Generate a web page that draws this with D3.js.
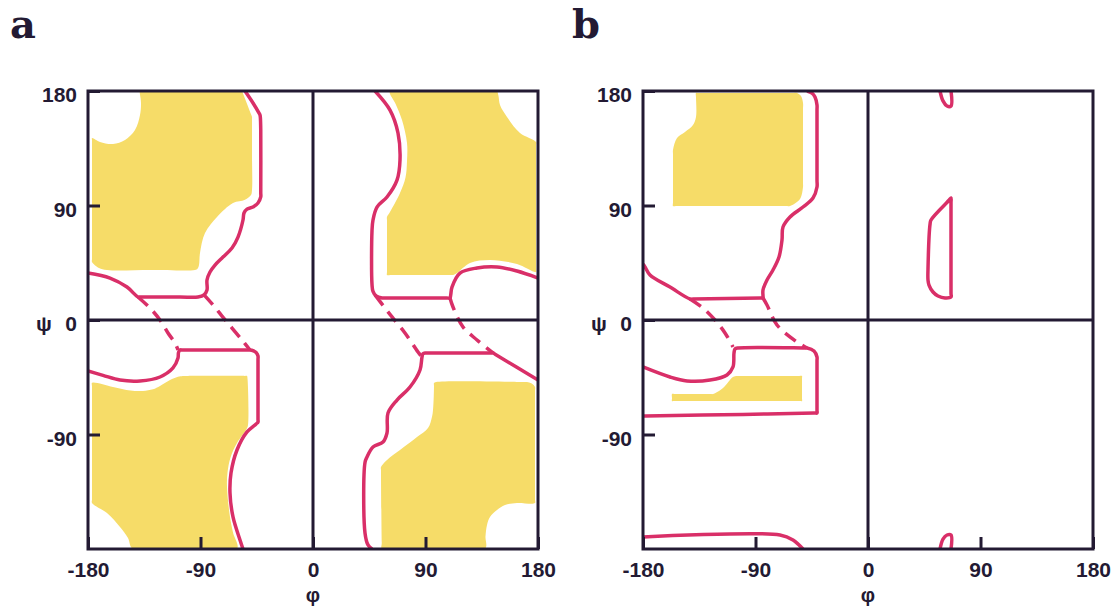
<!DOCTYPE html>
<html>
<head>
<meta charset="utf-8">
<script src="https://cdn.jsdelivr.net/npm/d3@7"></script>
<style>
  body { margin: 0; background: #fff; }
  text { font-family: "Liberation Sans", Arial, sans-serif; font-weight: 700; fill: #231a33; }
</style>
</head>
<body>
<svg id="chart" width="1112" height="607"></svg>
<script>
// [phi, psi] points
const xTickValues = [-180, -90, 0, 90, 180];
const yTickValues = [-90, 0, 90, 180];

// panel a
const aYellowUL = [[-140,180],[-100,180],[-58.5,180],[-56.8,180],[-56,178],[-49.5,161.5],[-48.8,159.6],[-48.8,157.5],
  [-48.8,130],[-48.8,102.2],[-49.6,98.3],[-54.4,94.6],[-64,92],[-76.8,81],[-86.4,68.4],[-90.4,52.7],[-91.2,43.2],
  [-92.4,40.2],[-94.4,39.3],[-130,39.3],[-164.8,39.3],[-171.2,40.9],[-176.8,45.6],[-176.8,48],[-176.8,95],
  [-176.8,141],[-176.8,143],[-170.4,139.9],[-160,138.3],[-150.4,141.5],[-142.4,149.3],[-138.4,161.1],
  [-137.6,170.6],[-138.4,177],[-139,180]];
const aYellowLL = [[-176.8,-49.5],[-160,-52.7],[-146,-55.5],[-136,-55.8],[-128,-54.5],[-122.4,-51.9],[-114.4,-47.2],
  [-106,-44.3],[-100,-44],[-54.5,-44],[-52.8,-44],[-52.4,-46],[-52,-82.5],[-53,-85.5],[-60.8,-96.7],[-66,-108],
  [-68.4,-120],[-68.8,-131.3],[-66.4,-154.8],[-64,-167],[-60.8,-180],[-100,-180],[-144,-180],[-148,-171.3],
  [-154.4,-162.7],[-164.8,-151.7],[-176.8,-143.8],[-176.8,-141],[-176.8,-100],[-176.8,-52]];
const aYellowUR = [[61.6,180],[100,180],[146,180],[147.2,180],[148.4,176],[149.6,169],[155.2,159.6],[165.6,147],
  [178.4,139.9],[178.4,137],[178.4,90],[178.4,40],[178.4,37.7],[163.2,44],[141.6,47.2],[125.6,44.8],[115.2,36.9],
  [112,35.4],[110,35.4],[62,35.4],[59.2,35.4],[59.2,38],[59.2,78],[59.2,81],[61.6,84.9],[69.6,99.8],[74,112],
  [75.2,125],[75.2,139.1],[71.2,157.2],[66,170]];
const aYellowLR = [[96.8,-49.5],[98.5,-48.7],[170,-48.7],[171.2,-48.7],[175,-50],[177.6,-52.7],[177.6,-56],
  [177.6,-100],[177.6,-141],[177.6,-143.8],[163.2,-143.8],[153.6,-145.4],[147.2,-149.3],[141.6,-154.8],
  [139.2,-161.1],[138,-170],[137.6,-180],[100,-180],[55.2,-180],[55,-175],[54.4,-118],[54.4,-115.5],[59.2,-110],
  [69.6,-102.2],[83.2,-92],[92,-84.9],[95.2,-76],[96,-70.7],[96.6,-60],[96.8,-52]];

const aContourUL = [[-180,36.9],[-162.4,33],[-148.8,25.9],[-140,18.1],[-138,18.1],[-106.4,18.1],[-92,18.1],
  [-87.2,19.7],[-84.8,23.6],[-84.8,31.4],[-82.4,37.7],[-78.4,43.2],[-72,49.5],[-64.8,56.6],[-60,65.2],[-56,78.6],
  [-55.2,84.1],[-52.8,87.2],[-48,88.8],[-44,92],[-41.8,96.7],[-41.8,100],[-41.8,149.3],[-42.1,159],[-42.4,161.1],
  [-43.4,163],[-48,170.6],[-54.4,180]];
const aContourLL = [[-180,-40.1],[-168,-43.5],[-154.4,-47.2],[-138.4,-47.9],[-122.4,-44.8],[-112,-37.7],
  [-108,-29.9],[-107.6,-25.5],[-106.4,-23.6],[-104,-23.6],[-52,-23.6],[-49,-23.8],[-45.5,-25.5],[-44,-28.3],
  [-44,-31],[-44,-78],[-44,-80.2],[-45.5,-81.7],[-52.8,-88],[-60.8,-102.2],[-65.6,-120.3],[-66.4,-136],
  [-64,-154.8],[-58.4,-172.9],[-56,-180]];
const aContourUR = [[49.6,180],[61.6,165],[68,147],[69.6,125.8],[67.2,110],[59.2,96.7],[51.2,88.8],[48,78.6],
  [47.2,70],[47.2,28],[48,22.5],[50.4,19],[55.2,17.3],[58,17.3],[107,17.3],[109.6,17.3],[110.2,20],[111.2,25.9],
  [117.6,36.9],[131.2,40.9],[147.2,41.7],[163.2,38.5],[180,33]];
const aContourLR = [[47.2,-180],[44,-176.8],[41.6,-167.4],[41.6,-112],[43.2,-107.7],[48,-99.8],[56,-95.9],
  [59.2,-88.8],[60,-73.1],[67.2,-62.9],[77.6,-52.7],[85.6,-39.3],[87.2,-29.1],[88,-26.5],[90,-25.9],[92,-25.9],
  [142,-25.9],[144,-25.9],[146,-27.1],[180,-47.2]];
const aDashed = [
  [[-140,18.1],[-130.4,9.4],[-122.4,0],[-116,-10.2],[-110.4,-18.1],[-108,-23.6]],
  [[-87.2,19.7],[-80,11.8],[-72.8,3.1],[-64.8,-6.3],[-56.8,-15.7],[-50.4,-23.6]],
  [[49.6,19.7],[57.6,9.4],[63.2,2.4],[73.6,-10.2],[84,-25.2],[87.2,-29.1]],
  [[109.6,17.3],[112,10.2],[120,-5.5],[131.2,-15.7],[144,-25.9]]
];

// panel b
const bYellowUpper = [[-137.6,178.4],[-135,178.4],[-60,178.4],[-56.8,178.4],[-53.6,176],[-52,170.6],[-52,165],
  [-52,108],[-52,104.5],[-54.4,95.1],[-62.4,89.6],[-66,89.6],[-153,89.6],[-156,89.6],[-156,92.5],[-156,130],
  [-156,133.6],[-152.8,143],[-146.4,147.8],[-140,153.3],[-137.6,159.6],[-137.6,175]];
const bYellowLower = [[-156.8,-58.2],[-155,-58.2],[-126,-58.2],[-124,-58.2],[-116,-53.4],[-108,-44.8],[-104.8,-44],
  [-102,-44],[-55,-44],[-52.8,-44],[-52.8,-46],[-52.8,-61.5],[-52.8,-63.7],[-55,-63.7],[-154.5,-63.7],
  [-156.8,-63.7],[-156.8,-61.5]];
const bContourUpper = [[-180,44],[-178.4,41.7],[-174.4,35.4],[-158.4,25.9],[-142.4,16.5],[-140,16.5],[-86,17.3],
  [-84,17.3],[-84,19],[-84,23.6],[-80.8,31.4],[-76,39.3],[-71.2,49.5],[-68.8,62.9],[-68,73.1],[-62.4,81],
  [-52,88.8],[-44,95.9],[-40.8,104.5],[-40.8,110],[-40.8,165],[-40.8,169],[-42.4,175.3],[-44.8,178.4],[-48.8,180]];
const bContourLower = [[-180,-36.9],[-158.4,-44.8],[-144.8,-47.9],[-126.4,-47.2],[-112.8,-43.2],[-108,-36.9],
  [-107.2,-25.9],[-106.4,-22.8],[-104,-22],[-51,-22],[-48.8,-22],[-43.2,-24.4],[-40.8,-29.1],[-40.8,-32],
  [-40.8,-71],[-40.8,-73.1],[-43,-73.1],[-100,-74.2],[-178,-75.5],[-180,-75.5]];
const bContourBottom = [[-180,-170.6],[-70.4,-169],[-60,-172.9],[-52,-180]];
const bRightTop = [[57.6,180],[60,172.2],[63.2,168.2],[66.4,168.2],[66.4,180]];
const bRightLoop = [[66.4,95.9],[65,94.3],[50.4,78.6],[49.6,75],[48,40],[48,31.4],[48.8,27.5],[52,22],[56,18.9],
  [61.6,17.3],[66.4,18.1],[66.4,21],[66.4,92]];
const bRightBottom = [[57.6,-180],[60,-172.2],[63.2,-169],[66.4,-169],[66.4,-180]];
const bDashed = [
  [[-142.4,16.5],[-132,9.4],[-122.4,0],[-114.4,-10.2],[-108,-21.2]],
  [[-84,17.3],[-80.8,11.8],[-72.8,-3.9],[-56.8,-17.3],[-48.8,-22]]
];

const panels = [
  { label: 'a', left: 88, labelX: 10, yellow: [aYellowUL, aYellowLL, aYellowUR, aYellowLR],
    open: [aContourUL, aContourLL, aContourUR, aContourLR], closed: [], dashed: aDashed },
  { label: 'b', left: 643, labelX: 572, yellow: [bYellowUpper, bYellowLower],
    open: [bContourUpper, bContourLower, bContourBottom, bRightTop, bRightBottom], closed: [bRightLoop], dashed: bDashed }
];

const plotTop = 91;
const width = 450;
const height = 458;
const ink = '#231a33';
const pink = '#d92f68';
const yellow = '#f6dc68';
const fontSize = 21;

const svg = d3.select('#chart');
const x = d3.scaleLinear().domain([-180, 180]).range([0, width]);
const y = d3.scaleLinear().domain([-180, 180]).range([height, 0]);

const openLine = d3.line().x(d => x(d[0])).y(d => y(d[1])).curve(d3.curveCatmullRom.alpha(0.5));
const closedLine = d3.line().x(d => x(d[0])).y(d => y(d[1])).curve(d3.curveCatmullRomClosed.alpha(0.5));
const plainNumber = d => String(d); // hyphen minus, as in the figure

panels.forEach((p, i) => {
  const g = svg.append('g').attr('transform', `translate(${p.left},${plotTop})`);

  g.append('clipPath').attr('id', `clip${i}`)
    .append('rect').attr('width', width).attr('height', height);

  const plot = g.append('g').attr('clip-path', `url(#clip${i})`);

  plot.selectAll('path.yellow').data(p.yellow).join('path')
    .attr('class', 'yellow')
    .attr('d', closedLine)
    .attr('fill', yellow);

  plot.selectAll('path.open').data(p.open).join('path')
    .attr('class', 'open')
    .attr('d', openLine)
    .attr('fill', 'none')
    .attr('stroke', pink)
    .attr('stroke-width', 3.5)
    .attr('stroke-linejoin', 'round');

  plot.selectAll('path.closed').data(p.closed).join('path')
    .attr('class', 'closed')
    .attr('d', closedLine)
    .attr('fill', 'none')
    .attr('stroke', pink)
    .attr('stroke-width', 3.5);

  plot.selectAll('path.dashed').data(p.dashed).join('path')
    .attr('class', 'dashed')
    .attr('d', openLine)
    .attr('fill', 'none')
    .attr('stroke', pink)
    .attr('stroke-width', 3.5)
    .attr('stroke-dasharray', '13,8');

  // zero lines
  g.append('line').attr('x1', x(0)).attr('x2', x(0)).attr('y1', 0).attr('y2', height)
    .attr('stroke', ink).attr('stroke-width', 3);
  g.append('line').attr('x1', 0).attr('x2', width).attr('y1', y(0)).attr('y2', y(0))
    .attr('stroke', ink).attr('stroke-width', 3);

  const xAxis = g.append('g').attr('transform', `translate(0,${height})`)
    .call(d3.axisBottom(x).tickValues(xTickValues).tickFormat(plainNumber)
      .tickSizeInner(-12).tickSizeOuter(0).tickPadding(13));
  const yAxis = g.append('g')
    .call(d3.axisLeft(y).tickValues(yTickValues).tickFormat(plainNumber)
      .tickSizeInner(-12).tickSizeOuter(0).tickPadding(11));

  [xAxis, yAxis].forEach(ax => {
    ax.select('.domain').remove();
    ax.selectAll('line').attr('stroke', ink).attr('stroke-width', 3);
    ax.selectAll('text').attr('font-size', fontSize).attr('fill', ink)
      .style('font-family', '"Liberation Sans", Arial, sans-serif').style('font-weight', 700);
  });
  yAxis.selectAll('text').attr('dy', '0.5em');

  g.append('rect').attr('width', width).attr('height', height)
    .attr('fill', 'none').attr('stroke', ink).attr('stroke-width', 3);

  g.append('text').attr('x', -44).attr('y', y(0) + 10.5)
    .attr('text-anchor', 'middle').attr('font-size', fontSize).text('ψ');
  g.append('text').attr('x', x(0)).attr('y', height + 53)
    .attr('text-anchor', 'middle').attr('font-size', 20).text('φ');

  svg.append('text').attr('x', p.labelX).attr('y', 38)
    .style('font-family', '"DejaVu Serif", serif').style('font-weight', 700)
    .attr('font-size', 40).text(p.label);
});
</script>
</body>
</html>
